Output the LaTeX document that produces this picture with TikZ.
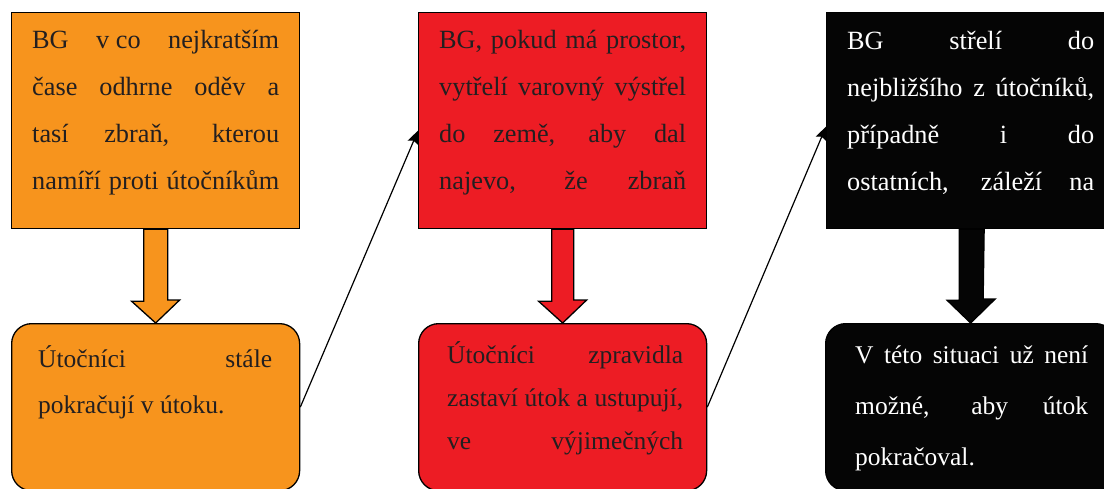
\documentclass[tikz,border=0pt]{standalone}
\usepackage{fontspec}
\setmainfont{Liberation Serif}
\usetikzlibrary{arrows.meta,calc}
\definecolor{boxorange}{HTML}{F7941D}
\definecolor{boxred}{HTML}{ED1C24}
\definecolor{boxblack}{HTML}{050505}
\definecolor{inktext}{HTML}{231F20}
\newcommand{\jline}[1]{\makebox[\linewidth][s]{#1}}
\begin{document}
\begin{tikzpicture}[x=1pt,y=-1pt,
  sqbox/.style={draw=black, line width=1.3pt, inner sep=0pt, anchor=north west,
    minimum width=288pt, minimum height=216pt},
  rbox/.style={draw=black, line width=1.3pt, inner sep=0pt, anchor=north west,
    rounded corners=20pt, minimum width=288pt, minimum height=167pt},
  txt/.style={inner sep=0pt, anchor=base west, font=\fontsize{26.3}{47}\selectfont},
  blockarrow/.style={draw=black, line width=1.3pt, line join=miter},
  conn/.style={line width=1.2pt, -{Stealth[length=13pt,width=11pt,inset=2pt]}}]
\useasboundingbox (0,0) rectangle (1104,488);
\clip (0,0) rectangle (1104,488);

% upper boxes
\node[sqbox, fill=boxorange] (b1) at (11,12) {};
\node[sqbox, fill=boxred]    (b2) at (418,12) {};
\node[sqbox, fill=boxblack, minimum width=290pt] (b3) at (826,12) {};

% lower boxes
\node[rbox, fill=boxorange] (c1) at (11,323) {};
\node[rbox, fill=boxred]    (c2) at (418,323) {};
\node[rbox, fill=boxblack, minimum width=290pt] (c3) at (825,323) {};

% texts upper
\node[txt, text=inktext] (t1) at ($(b1.north west)+(21,36)$) {\parbox[t]{247pt}{%
\jline{BG v\hspace{0.25em}co nejkratším}\\
\jline{čase odhrne oděv a}\\
\jline{tasí zbraň, kterou}\\
\jline{namíří proti útočníkům}}};
\node[txt, text=inktext] (t2) at ($(b2.north west)+(21,36)$) {\parbox[t]{247pt}{%
\jline{BG, pokud má prostor,}\\
\jline{vytřelí varovný výstřel}\\
\jline{do země, aby dal}\\
\jline{najevo, že zbraň}}};
\node[txt, text=white] (t3) at ($(b3.north west)+(21,37)$) {\parbox[t]{247pt}{%
\jline{BG střelí do}\\
\jline{nejbližšího z útočníků,}\\
\jline{případně i do}\\
\jline{ostatních, záleží na}}};

% texts lower
\node[txt, text=inktext, font=\fontsize{25.5}{46}\selectfont] (u1) at ($(c1.north west)+(27,44)$) {\parbox[t]{234pt}{%
\jline{Útočníci stále}\\
pokračují v útoku.}};
\node[txt, text=inktext, font=\fontsize{25.5}{43}\selectfont] (u2) at ($(c2.north west)+(29,40)$) {\parbox[t]{236pt}{%
\jline{Útočníci zpravidla}\\
\jline{zastaví útok a ustupují,}\\
\jline{ve výjimečných}}};
\node[txt, text=white, font=\fontsize{25.5}{51}\selectfont] (u3) at ($(c3.north west)+(30,40)$) {\parbox[t]{233pt}{%
\jline{V této situaci už není}\\
\jline{možné, aby útok}\\
pokračoval.}};

% block arrows
\draw[blockarrow, fill=boxorange] ($(b1.south)+(-12,0)$) -- ++(0,72) -- ++(-12,0)
  -- (c1.north) -- ++(24,-23) -- ++(-12,0) -- ($(b1.south)+(12,0)$) -- cycle;
\draw[blockarrow, fill=boxred] ($(b2.south)+(-11,0)$) -- ++(0,72) -- ++(-13,0)
  -- (c2.north) -- ++(24,-23) -- ++(-13,0) -- ($(b2.south)+(11,0)$) -- cycle;
\draw[blockarrow, fill=boxblack] ($(b3.south)+(-12.5,0)$) -- ++(0,71) -- ++(-12,0)
  -- (c3.north) -- ++(24.5,-24) -- ++(-12,0) -- ($(b3.south)+(12.5,0)$) -- cycle;

% connectors
\draw[conn] (c1.east) -- ($(b2.west)+(0,10)$);
\draw[conn] (c2.east) -- ($(b3.west)+(0,6)$);
\end{tikzpicture}
\end{document}
